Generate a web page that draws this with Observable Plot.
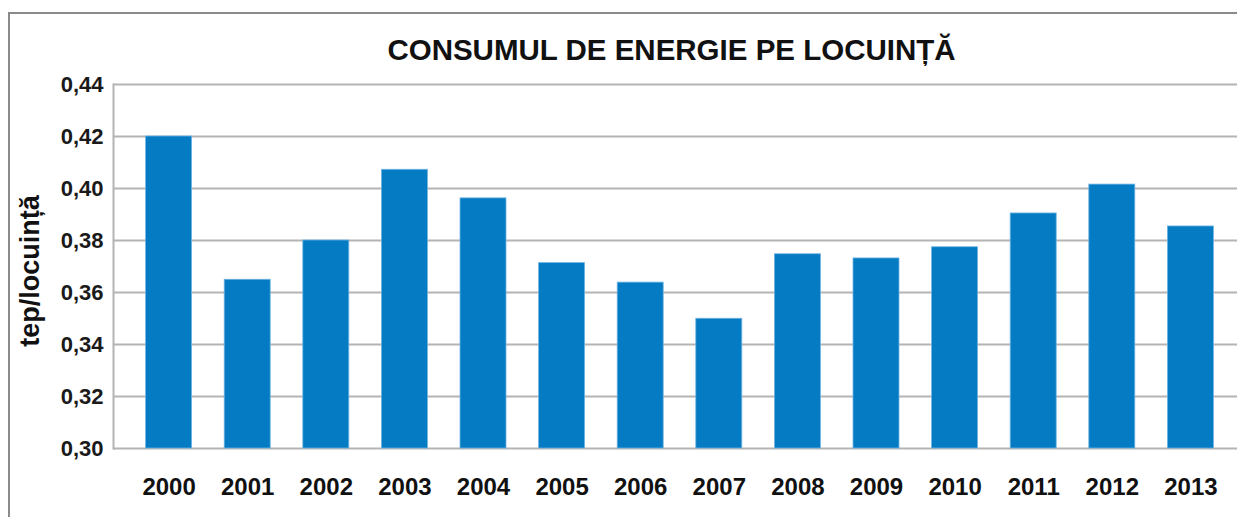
<!DOCTYPE html>
<html>
<head>
<meta charset="utf-8">
<script src="https://cdn.jsdelivr.net/npm/d3@7"></script>
<script src="https://cdn.jsdelivr.net/npm/@observablehq/plot@0.6"></script>
<style>
  html, body { margin: 0; padding: 0; background: #fff; overflow: hidden; }
  #wrap { position: relative; width: 1237px; height: 517px; font-family: "Liberation Sans", Arial, sans-serif; }
  #box { position: absolute; left: 8px; top: 12px; width: 1400px; height: 700px;
         border-left: 2px solid #8a8a8a; border-top: 2px solid #8a8a8a; }
  #title { position: absolute; left: 0; width: 1343px; top: 33px; text-align: center;
           font-weight: bold; font-size: 29.5px; color: #111; white-space: nowrap; }
  #ylab { position: absolute; left: 30px; top: 271px; transform: translate(-50%, -50%) rotate(-90deg);
          font-weight: bold; font-size: 27px; color: #111; white-space: nowrap; }
  #chart { position: absolute; left: 0; top: 0; }
</style>
</head>
<body>
<div id="wrap">
  <div id="box"></div>
  <div id="chart"></div>
  <div id="title">CONSUMUL DE ENERGIE PE LOCUINȚĂ</div>
  <div id="ylab">tep/locuință</div>
</div>
<script>
const years = ["2000","2001","2002","2003","2004","2005","2006","2007","2008","2009","2010","2011","2012","2013"];
const values = [0.420, 0.3649, 0.380, 0.4072, 0.3962, 0.3713, 0.3638, 0.3499, 0.3747, 0.3731, 0.3774, 0.3904, 0.4015, 0.3854];
const yTicks = [0.30, 0.32, 0.34, 0.36, 0.38, 0.40, 0.42, 0.44];

const data = years.map((y, i) => ({year: y, value: values[i]}));
const fmt = d => d.toFixed(2).replace(".", ",");

const chart = Plot.plot({
  width: 1237,
  height: 517,
  marginTop: 84,
  marginBottom: 69,
  marginLeft: 113,
  marginRight: 0,
  style: {fontFamily: "'Liberation Sans', Arial, sans-serif", background: "transparent", overflow: "visible"},
  x: {domain: years, range: [113, 1246], padding: 0.415, align: 0.5, round: false},
  y: {domain: [0.30, 0.44]},
  marks: [
    Plot.ruleY(yTicks, {stroke: "#b4b4b4", strokeWidth: 2}),
    Plot.frame({anchor: "left", stroke: "#b4b4b4", strokeWidth: 2}),
    Plot.barY(data, {x: "year", y1: 0.30, y2: "value", fill: "#047bc2", stroke: "#6db3e3", strokeWidth: 0.8}),
    Plot.axisY(yTicks, {tickSize: 0, tickPadding: 10, tickFormat: fmt, fontSize: 22, fontWeight: "bold", fill: "#1a1a1a", label: null}),
    Plot.axisX({tickSize: 0, tickPadding: 29, fontSize: 24, fontWeight: "bold", fill: "#111", label: null})
  ]
});
document.getElementById("chart").appendChild(chart);
</script>
</body>
</html>
